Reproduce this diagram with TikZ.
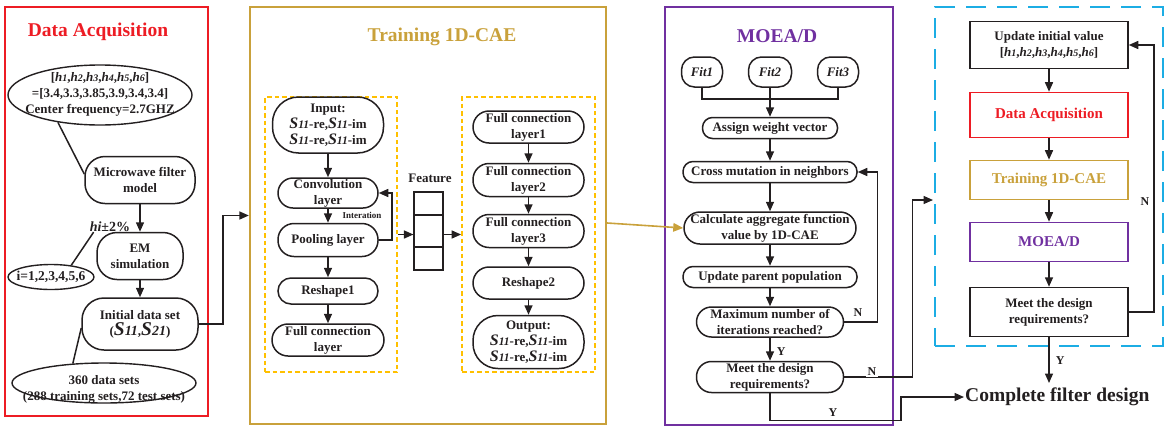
\documentclass[tikz,border=0pt]{standalone}
\usepackage{fontspec}
\setmainfont{Liberation Serif}
\usetikzlibrary{arrows.meta,shapes.geometric}

\definecolor{darec}{HTML}{ED1C24}
\definecolor{caegold}{HTML}{C9A13B}
\definecolor{moepurple}{HTML}{7030A0}
\definecolor{dashyellow}{HTML}{FFC000}
\definecolor{loopblue}{HTML}{1CADE4}
\definecolor{ink}{HTML}{231F20}

\newcommand\bodyfont{\bfseries\fontsize{13}{16}\selectfont}
\newcommand\hsub[1]{\textit{h\fontsize{10}{10}\selectfont #1}}
\newcommand\Ss[1]{{\itshape\fontsize{16}{16}\selectfont S\fontsize{11.5}{11.5}\selectfont #1}}
\newcommand\Sb[1]{{\itshape\fontsize{19.5}{19.5}\selectfont S\fontsize{14}{14}\selectfont #1}}

\tikzset{
  panel/.style={draw, line width=2.3pt, inner sep=0pt},
  dbox/.style={draw=dashyellow, line width=1.8pt, dash pattern=on 4.5pt off 3pt, inner sep=0pt},
  title/.style={font=\bfseries\fontsize{19.5}{20}\selectfont, inner sep=0pt},
  txt/.style={align=center, font=\bodyfont, inner sep=0pt, text=ink},
  box/.style={draw=ink, line width=1.5pt, align=center, font=\bodyfont,
              inner xsep=-20pt, inner ysep=-12pt, text=ink},
  pill/.style={box, rounded corners=#1},
  pill/.default=12pt,
  rbox/.style={box, minimum width=158},
  cbox/.style={rbox, line width=1.6pt, font=\bfseries\fontsize{15}{16}\selectfont},
  ell/.style={draw=ink, line width=1.4pt, ellipse, inner sep=0pt},
  cell/.style={draw=ink, line width=1.1pt, minimum width=29, inner sep=0pt},
  ln/.style={draw=ink, line width=1.5pt},
  arr/.style={ln, -{Triangle[length=9.5pt,width=8pt]}},
  lab/.style={font=\bfseries\fontsize{12}{12}\selectfont, inner sep=0pt, text=ink},
  small/.style={font=\bfseries\fontsize{9}{9}\selectfont, inner sep=0pt, text=ink},
}

\begin{document}
\begin{tikzpicture}[x=1pt,y=-1pt]
\useasboundingbox (0,0) rectangle (1172,426);

% ---- stage frames ----
\node[panel, draw=darec, minimum width=203, minimum height=409] (P1) at (106.5,211.5) {};
\node[panel, draw=caegold, minimum width=356, minimum height=417] (P2) at (428,215.5) {};
\node[panel, draw=moepurple, minimum width=228, minimum height=418] (P3) at (779,216) {};
\node[panel, draw=loopblue, line width=2.5pt, dash pattern=on 20pt off 11pt,
      minimum width=228, minimum height=339] (P4) at (1049,176.5) {};

\node[title, text=darec] (tDA) at (98,32) {Data Acquisition};
\node[title, text=caegold] (tCAE) at (442,37) {Training 1D-CAE};
\node[title, text=moepurple] (tMO) at (777,36) {MOEA/D};

% ---- data acquisition ----
\node[ell, minimum width=184, minimum height=60] (e1) at (100,95) {};
\node[txt] (e1t) at (100,94) {[\hsub1,\hsub2,\hsub3,\hsub4,\hsub5,\hsub6]\\=[3.4,3.3,3.85,3.9,3.4,3.4]\\Center frequency=2.7GHZ};
\node[pill=20pt, minimum width=110, minimum height=47] (mf) at (140,180) {Microwave filter\\model};
\node[pill=20pt, minimum width=86, minimum height=47] (em) at (140,256) {EM\\simulation};
\node[pill=22pt, minimum width=116, minimum height=52] (init) at (140,324) {Initial data set\\ (\Sb{11},\Sb{21})};
\node[txt, font=\bfseries\fontsize{14}{14}\selectfont] (hi) at (110,227) {\textit{hi}±2\%};
\node[ell, minimum width=86, minimum height=25] (e2) at (51,277) {};
\node[txt, font=\bfseries\fontsize{13.5}{14}\selectfont] (e2t) at (51,277) {i=1,2,3,4,5,6};
\node[ell, minimum width=184, minimum height=40] (ds) at (104,383) {};
\node[txt] (dst) at (104,389) {360 data sets\\(288 training sets,72 test sets)};

\draw[ln] (e1.213) -- ([yshift=6pt]mf.west);
\draw[arr] (mf.south) -- (em.north);
\draw[arr] (em.south) -- (init.north);
\draw[ln] (e2.30) -- ([xshift=4pt]hi.south west);
\draw[ln] (ds.148) -- ([yshift=-4pt]init.west);
\draw[arr] (init.east) -- ++(24,0) |- (P2.west);

% ---- 1D-CAE training ----
\node[dbox, minimum width=132, minimum height=275] (D1) at (331,234.5) {};
\node[dbox, minimum width=133, minimum height=275] (D2) at (528.5,234.5) {};

\node[pill=26pt, minimum width=111, minimum height=56] (inp) at (328,125) {Input:\\\Ss{11}-re,\Ss{11}-im\\\Ss{11}-re,\Ss{11}-im};
\node[pill=15pt, minimum width=100, minimum height=30] (conv) at (328,193) {Convolution\\layer};
\node[pill=16pt, minimum width=100, minimum height=33] (pool) at (328,240) {Pooling layer};
\node[pill=13pt, minimum width=100, minimum height=26] (rs1) at (328,291) {Reshape1};
\node[pill=16pt, minimum width=112, minimum height=32] (fcl) at (328,340) {Full connection\\layer};

\draw[arr] (inp.south) -- (conv.north);
\draw[arr] (conv.south) -- (pool.north);
\draw[arr] (pool.south) -- (rs1.north);
\draw[arr] (rs1.south) -- (fcl.north);
\draw[arr] (pool.east) -- ++(13,0) |- (conv.east);
\node[small] (itl) at (362,215) {Interation};

\node[txt] (feat) at (430,178) {Feature};
\node[cell, minimum height=23] (f1) at (428.5,203.5) {};
\node[cell, minimum height=32] (f2) at (428.5,231) {};
\node[cell, minimum height=23] (f3) at (428.5,258.5) {};
\draw[arr] (D1.east) -- (D1.east -| f2.west);
\draw[arr] (f2.east |- D2.west) -- (D2.west);

\node[pill=16pt, minimum width=111, minimum height=32] (fc1) at (528.5,127) {Full connection\\layer1};
\node[pill=16pt, minimum width=111, minimum height=33] (fc2) at (528.5,180) {Full connection\\layer2};
\node[pill=16pt, minimum width=111, minimum height=33] (fc3) at (528.5,231) {Full connection\\layer3};
\node[pill=16pt, minimum width=111, minimum height=32] (rs2) at (528.5,283) {Reshape2};
\node[pill=25pt, minimum width=111, minimum height=53] (out) at (528.5,342) {Output:\\\Ss{11}-re,\Ss{11}-im\\\Ss{11}-re,\Ss{11}-im};

\draw[arr] (fc1.south) -- (fc2.north);
\draw[arr] (fc2.south) -- (fc3.north);
\draw[arr] (fc3.south) -- (rs2.north);
\draw[arr] (rs2.south) -- (out.north);

% ---- MOEA/D ----
\node[pill=13pt, font=\bodyfont\itshape, minimum width=41, minimum height=30] (fit1) at (702,72) {Fit1};
\node[pill=13pt, font=\bodyfont\itshape, minimum width=43, minimum height=30] (fit2) at (770,72) {Fit2};
\node[pill=13pt, font=\bodyfont\itshape, minimum width=41, minimum height=30] (fit3) at (838,72) {Fit3};
\node[pill=10pt, minimum width=135, minimum height=21] (assign) at (770,128) {Assign weight vector};
\node[pill=10pt, minimum width=174, minimum height=21] (cross) at (770,172) {Cross mutation in neighbors};
\node[pill=16pt, minimum width=172, minimum height=32] (calc) at (770,228) {Calculate aggregate function\\value by 1D-CAE};
\node[pill=10pt, minimum width=174, minimum height=21] (upd) at (770,277) {Update parent population};
\node[pill=15pt, minimum width=147, minimum height=30] (maxit) at (770,322) {Maximum number of\\iterations reached?};
\node[pill=15pt, minimum width=147, minimum height=31] (meet) at (770,377) {Meet the design\\requirements?};

\draw[ln] (fit1.south) -- ++(0,11) -| (fit3.south);
\draw[arr] (fit2.south) -- (assign.north);
\draw[arr] (assign.south) -- (cross.north);
\draw[arr] (cross.south) -- (calc.north);
\draw[arr] (calc.south) -- (upd.north);
\draw[arr] (upd.south) -- (maxit.north);
\draw[arr] (maxit.south) -- node[lab, anchor=west, xshift=6pt, pos=0.6] (y1) {Y} (meet.north);
\draw[arr] (maxit.east) -- ++(33,0) |- (cross.east);
\node[lab] (n1) at (858,313) {N};

\draw[caegold, line width=1.6pt, -{Triangle[length=10pt,width=8.5pt]}] ([yshift=-7.5pt]P2.east) -- (calc.west);

\coordinate (bin) at (933,200);
\draw[arr] (meet.east) -- ++(68,0) |- (bin);
\node[lab, fill=white, inner sep=1.5pt] (n2) at (872,372) {N};

\node[font=\bfseries\fontsize{19.5}{20}\selectfont, text=ink, inner sep=1pt, anchor=west] (cfd) at (964,397) {Complete filter design};
\draw[arr] (meet.south) -- ++(0,27) -- ++(131,0) |- (cfd.west);
\node[lab] (y2) at (833,413) {Y};

% ---- outer design loop ----
\node[rbox, minimum height=47] (uiv) at (1049,45) {Update initial value\\\relax [\hsub1,\hsub2,\hsub3,\hsub4,\hsub5,\hsub6]};
\node[cbox, draw=darec, text=darec, minimum height=45] (rda) at (1049,115) {Data Acquisition};
\node[cbox, draw=caegold, text=caegold, minimum height=39] (rtr) at (1049,180) {Training 1D-CAE};
\node[cbox, draw=moepurple, text=moepurple, minimum height=39] (rmo) at (1049,242) {MOEA/D};
\node[rbox, minimum height=49] (rmeet) at (1049,312) {Meet the design\\requirements?};

\draw[arr] (uiv.south) -- (rda.north);
\draw[arr] (rda.south) -- (rtr.north);
\draw[arr] (rtr.south) -- (rmo.north);
\draw[arr] (rmo.south) -- (rmeet.north);
\coordinate (yend) at (1049,383);
\draw[arr] (rmeet.south) -- node[lab, anchor=west, xshift=6pt] (y3) {Y} (yend);
\draw[arr] (rmeet.east) -- ++(25,0) |- (uiv.east);
\node[lab] (n3) at (1145,202) {N};

\end{tikzpicture}
\end{document}
